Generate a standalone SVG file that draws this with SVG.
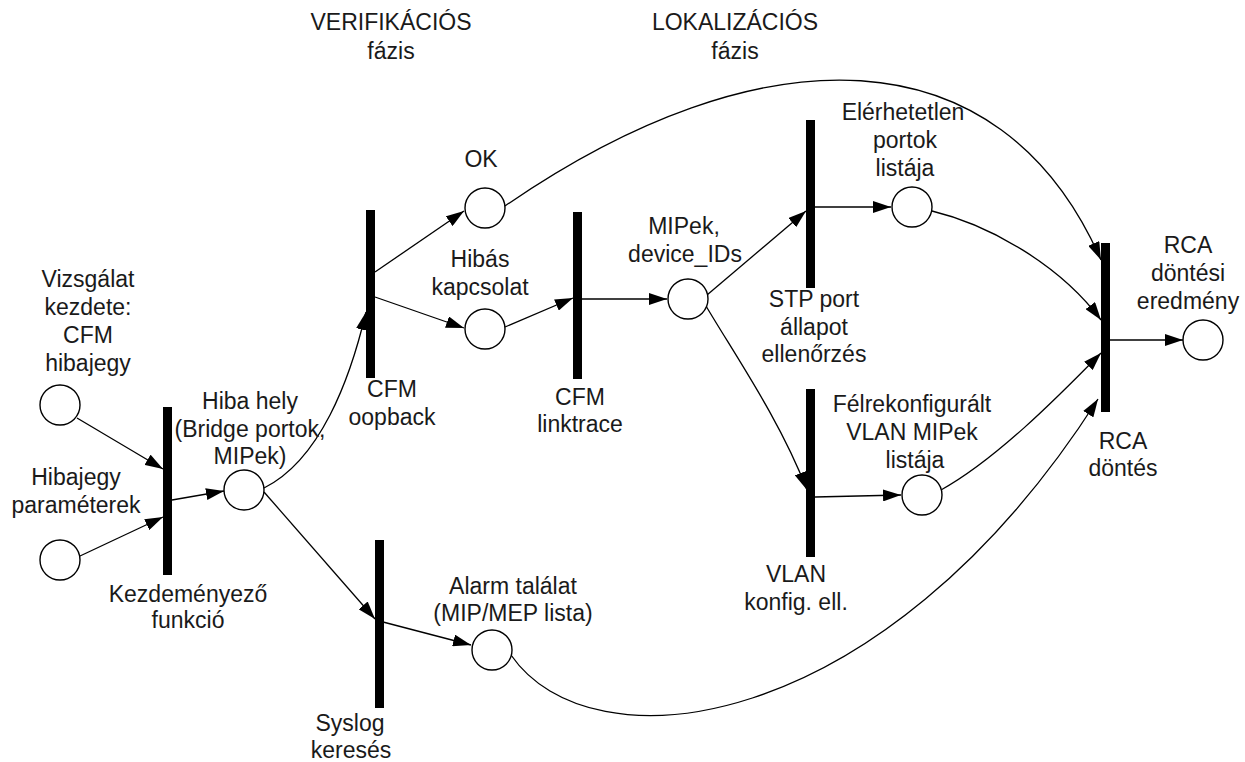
<svg xmlns="http://www.w3.org/2000/svg" width="1245" height="762" viewBox="0 0 1245 762">
<defs>
<marker id="arr" markerWidth="18" markerHeight="12" refX="18" refY="6" orient="auto" markerUnits="userSpaceOnUse">
<path d="M0,0 L18,6 L0,12 z" fill="#000"/>
</marker>
<style>
.t{font-family:"Liberation Sans",Arial,sans-serif;font-size:23px;fill:#1a1a1a;text-anchor:middle}
.p{fill:#fff;stroke:#000;stroke-width:1.4}
.b{fill:#000}
.e{fill:none;stroke:#000;stroke-width:1.3;marker-end:url(#arr)}
</style>
</defs>
<rect width="1245" height="762" fill="#fff"/>
<g id="phase-labels">
<text class="t" x="391" y="30">VERIFIKÁCIÓS</text>
<text class="t" x="391" y="59">fázis</text>
<text class="t" x="735" y="30">LOKALIZÁCIÓS</text>
<text class="t" x="735" y="59">fázis</text>
</g>
<g id="connectors">
<path class="e" d="M77,418 L163,469"/>
<path class="e" d="M80,556 L163,517"/>
<path class="e" d="M172,500 L224,491"/>
<path class="e" d="M264,488 C320,460 350,380 366,312"/>
<path class="e" d="M264,492 L375,619"/>
<path class="e" d="M375,272 L464,211"/>
<path class="e" d="M375,297 L464,328"/>
<path class="e" d="M505,327 L573,298"/>
<path class="e" d="M582,299 L667,299"/>
<path class="e" d="M707,295 L806,211"/>
<path class="e" d="M815,207 L891,207"/>
<path class="e" d="M706,306 C735,355 780,420 807,490"/>
<path class="e" d="M815,497 L901,495"/>
<path class="e" d="M505,206 C760,30 1000,30 1101,260"/>
<path class="e" d="M932,211 C990,225 1060,265 1101,320"/>
<path class="e" d="M941,490 C995,460 1055,400 1101,353"/>
<path class="e" d="M511,655 C590,770 880,740 1098,399"/>
<path class="e" d="M383,622 L471,645"/>
<path class="e" d="M1110,340 L1183,340"/>
</g>
<g id="p-vizsgalat">
<circle class="p" cx="60" cy="405" r="20"/>
<text class="t" x="88" y="287">Vizsgálat</text>
<text class="t" x="88" y="315">kezdete:</text>
<text class="t" x="88" y="343">CFM</text>
<text class="t" x="88" y="371">hibajegy</text>
</g>
<g id="p-hibajegy">
<circle class="p" cx="60" cy="560" r="20"/>
<text class="t" x="76" y="485">Hibajegy</text>
<text class="t" x="76" y="513">paraméterek</text>
</g>
<g id="t-kezdemenyezo">
<rect class="b" x="163" y="407" width="9" height="168"/>
<text class="t" x="188" y="602">Kezdeményező</text>
<text class="t" x="188" y="628">funkció</text>
</g>
<g id="p-hibahely">
<circle class="p" cx="244" cy="490" r="20"/>
<text class="t" x="250" y="409">Hiba hely</text>
<text class="t" x="250" y="437">(Bridge portok,</text>
<text class="t" x="250" y="464">MIPek)</text>
</g>
<g id="t-loopback">
<rect class="b" x="366" y="210" width="9" height="168"/>
<text class="t" x="392" y="397">CFM</text>
<text class="t" x="392" y="425">oopback</text>
</g>
<g id="p-ok">
<circle class="p" cx="485" cy="208" r="20"/>
<text class="t" x="481" y="167">OK</text>
</g>
<g id="p-hibas">
<circle class="p" cx="485" cy="329" r="20"/>
<text class="t" x="480" y="267">Hibás</text>
<text class="t" x="480" y="295">kapcsolat</text>
</g>
<g id="t-linktrace">
<rect class="b" x="573" y="212" width="9" height="167"/>
<text class="t" x="580" y="405">CFM</text>
<text class="t" x="580" y="432">linktrace</text>
</g>
<g id="p-mipek">
<circle class="p" cx="688" cy="299" r="20"/>
<text class="t" x="684" y="234">MIPek,</text>
<text class="t" x="685" y="262">device_IDs</text>
</g>
<g id="t-stp">
<rect class="b" x="806" y="120" width="9" height="168"/>
<text class="t" x="814" y="307">STP port</text>
<text class="t" x="814" y="335">állapot</text>
<text class="t" x="814" y="362">ellenőrzés</text>
</g>
<g id="p-elerhetetlen">
<circle class="p" cx="912" cy="207" r="20"/>
<text class="t" x="903" y="120">Elérhetetlen</text>
<text class="t" x="905" y="148">portok</text>
<text class="t" x="905" y="176">listája</text>
</g>
<g id="t-vlan">
<rect class="b" x="806" y="389" width="9" height="168"/>
<text class="t" x="796" y="582">VLAN</text>
<text class="t" x="796" y="610">konfig. ell.</text>
</g>
<g id="p-felrekonfiguralt">
<circle class="p" cx="922" cy="495" r="20"/>
<text class="t" x="912" y="412">Félrekonfigurált</text>
<text class="t" x="912" y="440">VLAN MIPek</text>
<text class="t" x="915" y="468">listája</text>
</g>
<g id="t-syslog">
<rect class="b" x="375" y="540" width="9" height="168"/>
<text class="t" x="350" y="731">Syslog</text>
<text class="t" x="351" y="758">keresés</text>
</g>
<g id="p-alarm">
<circle class="p" cx="492" cy="650" r="20"/>
<text class="t" x="513" y="594">Alarm találat</text>
<text class="t" x="513" y="621">(MIP/MEP lista)</text>
</g>
<g id="t-rca">
<rect class="b" x="1101" y="243" width="9" height="169"/>
<text class="t" x="1123" y="449">RCA</text>
<text class="t" x="1123" y="476">döntés</text>
</g>
<g id="p-rca-eredmeny">
<circle class="p" cx="1203" cy="340" r="20"/>
<text class="t" x="1188" y="253">RCA</text>
<text class="t" x="1188" y="281">döntési</text>
<text class="t" x="1188" y="309">eredmény</text>
</g>
</svg>
